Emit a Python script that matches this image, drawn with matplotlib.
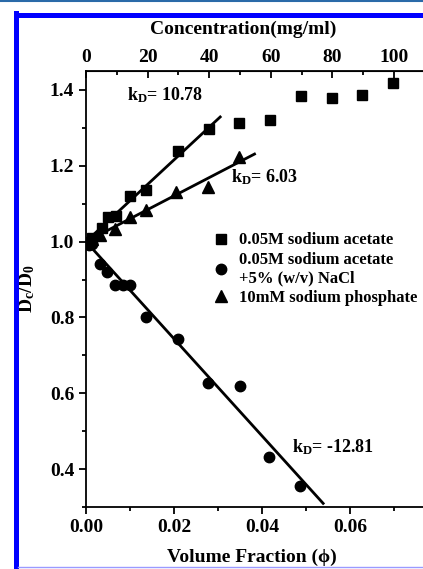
import numpy as np
import matplotlib
matplotlib.use('Agg')
import matplotlib.pyplot as plt
from matplotlib.lines import Line2D
from matplotlib.ticker import MultipleLocator, FixedLocator

plt.rcParams['font.family'] = ['Liberation Serif', 'DejaVu Serif']
plt.rcParams['font.weight'] = 'bold'
plt.rcParams['axes.labelweight'] = 'bold'
plt.rcParams['mathtext.fontset'] = 'custom'
plt.rcParams['mathtext.rm'] = 'Liberation Serif:bold'
plt.rcParams['mathtext.it'] = 'Liberation Serif:bold'
plt.rcParams['mathtext.bf'] = 'Liberation Serif:bold'

# 0.05M sodium acetate
phi_ac = [0.0006, 0.0014, 0.0036, 0.005, 0.0068, 0.010, 0.0137, 0.0209, 0.0279,
          0.0347, 0.0419, 0.0489, 0.0559, 0.0628, 0.0698]
d_ac = [1.00, 1.01, 1.035, 1.066, 1.068, 1.12, 1.136, 1.239, 1.296,
        1.313, 1.32, 1.384, 1.38, 1.388, 1.419]
# 0.05M sodium acetate + 5% NaCl
phi_na = [0.0006, 0.0014, 0.0032, 0.0048, 0.0066, 0.0084, 0.0100, 0.0137, 0.0209,
          0.0277, 0.0349, 0.0417, 0.0487]
d_na = [0.99, 0.995, 0.941, 0.919, 0.886, 0.886, 0.886, 0.80, 0.742,
        0.627, 0.618, 0.431, 0.355]
# 10mM sodium phosphate
phi_ph = [0.0006, 0.0014, 0.0032, 0.0066, 0.010, 0.0137, 0.0205, 0.0277, 0.0347]
d_ph = [1.00, 1.008, 1.018, 1.033, 1.066, 1.083, 1.132, 1.143, 1.224]

# linear fits: slope and end of drawn line
k_ac, end_ac = 10.78, 0.0305
k_ph, end_ph = 6.03, 0.0383
k_na, end_na = -12.81, 0.0539

x_ticks = [0.00, 0.02, 0.04, 0.06]
conc_ticks = [0, 20, 40, 60, 80, 100]

fig = plt.figure(figsize=(4.23, 5.69), dpi=100)
W, H = 423, 569
ax = fig.add_axes([86 / W, (H - 507) / H, 352 / W, (507 - 71) / H])

ax.plot(phi_ac, d_ac, 's', color='black', ms=6.8, label='0.05M sodium acetate')
ax.plot(phi_na, d_na, 'o', color='black', ms=7.5,
        label='0.05M sodium acetate\n+5% (w/v) NaCl')
ax.plot(phi_ph, d_ph, '^', color='black', ms=8, label='10mM sodium phosphate')

for k, end in [(k_ac, end_ac), (k_ph, end_ph), (k_na, end_na)]:
    xx = np.array([0, end])
    ax.plot(xx, 1 + k * xx, '-', color='black', lw=2)

ax.text(0.0093, 1.385, r'k$_\mathrm{D}$= 10.78', fontsize=13, va='center')
ax.text(0.033, 1.17, r'k$_\mathrm{D}$= 6.03', fontsize=13, va='center')
ax.text(0.0468, 0.457, r'k$_\mathrm{D}$= -12.81', fontsize=13, va='center')

ax.set_xlim(0, 0.08)
ax.set_ylim(0.3, 1.45)
ax.xaxis.set_major_locator(FixedLocator(x_ticks))
ax.xaxis.set_minor_locator(MultipleLocator(0.01))
ax.yaxis.set_major_locator(MultipleLocator(0.2))
ax.yaxis.set_minor_locator(MultipleLocator(0.1))
ax.xaxis.set_major_formatter(plt.FormatStrFormatter('%.2f'))
ax.yaxis.set_major_formatter(plt.FormatStrFormatter('%.1f'))
ax.tick_params(which='both', direction='out', width=1.3, labelsize=14)
ax.tick_params(which='major', length=5)
ax.tick_params(which='minor', length=3)
ax.spines['right'].set_visible(False)
for s in ['left', 'bottom', 'top']:
    ax.spines[s].set_linewidth(1.3)

ax.set_xlabel('Volume Fraction (\u03d5)', fontsize=14)
ax.xaxis.set_label_coords(0.47, -0.095)
ax.set_ylabel(r'D$_\mathrm{c}$/D$_\mathrm{0}$', fontsize=14, labelpad=9)

top = ax.secondary_xaxis('top', functions=(lambda p: p * 100 / 0.07,
                                           lambda c: c * 0.07 / 100))
top.xaxis.set_major_locator(FixedLocator(conc_ticks))
top.xaxis.set_minor_locator(MultipleLocator(10))
top.tick_params(which='both', direction='in', width=1.3, labelsize=14)
top.tick_params(which='major', length=5)
top.tick_params(which='minor', length=3)
top.set_xlabel('Concentration(mg/ml)', fontsize=14)
top.xaxis.set_label_coords(0.446, 1.085, transform=ax.transAxes)

ax.legend(loc='upper left', bbox_to_anchor=(0.34, 0.645), frameon=False,
          fontsize=12, handlelength=1.0, handletextpad=0.6,
          labelspacing=0.2, borderaxespad=0)

# surrounding frame
def fx(px):
    return px / W

def fy(py):
    return 1 - py / H

fig.add_artist(Line2D([0, 1], [fy(1), fy(1)], color='#2a6aa8', lw=1.5))
fig.add_artist(Line2D([fx(15.5), 1], [fy(14.5), fy(14.5)], color='#0000ff', lw=3.6))
fig.add_artist(Line2D([fx(15.5), fx(15.5)], [fy(12.5), 0], color='#0000ff', lw=3.6))
fig.add_artist(Line2D([fx(18), 1], [fy(566.5), fy(566.5)], color='#9a9aff', lw=1))

fig.savefig('out.png', dpi=100)
